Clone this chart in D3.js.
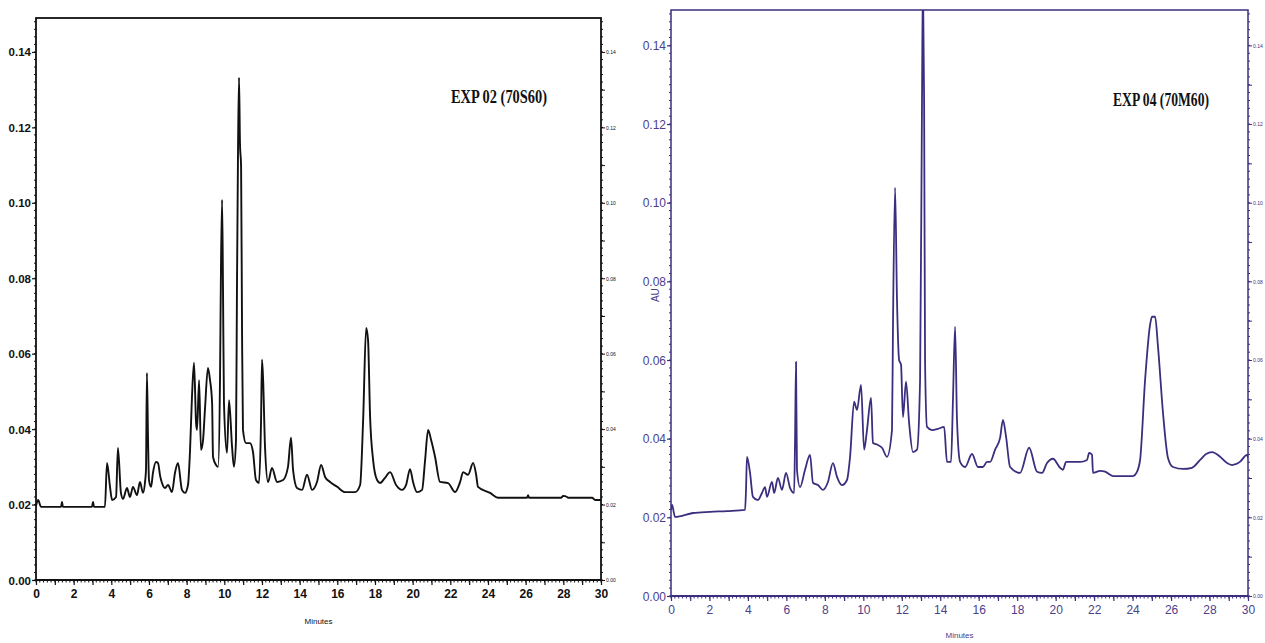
<!DOCTYPE html>
<html>
<head>
<meta charset="utf-8">
<script src="https://cdn.jsdelivr.net/npm/d3@7"></script>
<style>
  html, body { margin: 0; padding: 0; background: #fff; }
  svg { display: block; }
  .lbl { font-family: "Liberation Sans Narrow", "Liberation Sans", Arial, sans-serif; }
  .title { font-family: "Liberation Serif", "Times New Roman", serif; font-weight: bold; }
</style>
</head>
<body>
<svg id="chart" width="1265" height="643"></svg>
<script>
// Retention time (min) and absorbance (AU) for the two chromatograms.
const exp02Time = [0.00,0.11,0.27,1.33,1.38,1.43,2.97,3.03,3.08,3.66,3.77,3.93,4.04,4.25,4.35,4.51,4.62,4.83,4.99,5.15,5.36,5.52,5.68,5.79,5.84,5.89,5.95,6.00,6.11,6.21,6.37,6.48,6.59,6.69,6.85,7.01,7.22,7.38,7.54,7.75,7.91,8.07,8.18,8.28,8.39,8.50,8.55,8.66,8.76,8.87,8.97,9.13,9.24,9.35,9.40,9.56,9.67,9.77,9.82,9.88,9.93,9.98,10.14,10.25,10.41,10.51,10.62,10.67,10.73,10.78,10.83,10.89,10.94,10.99,11.15,11.36,11.52,11.68,11.84,11.95,12.00,12.06,12.16,12.32,12.53,12.80,13.12,13.38,13.54,13.65,13.86,14.13,14.39,14.66,14.92,15.14,15.35,15.61,15.99,16.41,16.94,17.21,17.37,17.53,17.63,17.74,17.90,18.11,18.27,18.53,18.80,19.12,19.44,19.65,19.86,20.02,20.23,20.50,20.66,20.82,20.98,21.19,21.45,21.88,22.25,22.52,22.68,22.94,23.21,23.37,23.47,24.11,24.54,26.07,26.13,26.18,27.88,27.99,28.20,28.25,29.53,29.69,30.00];
const exp02AU = [0.0196,0.0212,0.0194,0.0194,0.0207,0.0194,0.0194,0.0207,0.0194,0.0194,0.0310,0.0247,0.0212,0.0220,0.0350,0.0231,0.0215,0.0244,0.0220,0.0247,0.0225,0.0260,0.0231,0.0260,0.0292,0.0549,0.0370,0.0265,0.0247,0.0284,0.0313,0.0310,0.0276,0.0257,0.0244,0.0252,0.0233,0.0284,0.0310,0.0239,0.0231,0.0252,0.0345,0.0483,0.0576,0.0416,0.0398,0.0530,0.0345,0.0371,0.0451,0.0562,0.0530,0.0470,0.0326,0.0305,0.0300,0.0530,0.0817,0.1008,0.0770,0.0470,0.0337,0.0477,0.0353,0.0300,0.0371,0.0770,0.1159,0.1332,0.1159,0.1095,0.0663,0.0398,0.0363,0.0363,0.0340,0.0265,0.0257,0.0424,0.0584,0.0530,0.0353,0.0260,0.0297,0.0260,0.0265,0.0300,0.0377,0.0292,0.0244,0.0239,0.0279,0.0239,0.0260,0.0305,0.0273,0.0260,0.0247,0.0233,0.0233,0.0252,0.0424,0.0668,0.0637,0.0432,0.0318,0.0265,0.0257,0.0271,0.0286,0.0252,0.0239,0.0252,0.0294,0.0260,0.0233,0.0239,0.0318,0.0398,0.0371,0.0326,0.0260,0.0257,0.0233,0.0260,0.0286,0.0279,0.0310,0.0279,0.0247,0.0231,0.0218,0.0218,0.0225,0.0218,0.0218,0.0223,0.0220,0.0218,0.0218,0.0212,0.0212];

const exp04Time = [0.00,0.05,0.21,1.14,2.03,2.91,3.85,3.90,3.95,4.11,4.26,4.52,4.73,4.89,4.99,5.25,5.36,5.56,5.77,5.98,6.19,6.40,6.45,6.50,6.55,6.71,6.97,7.23,7.38,7.64,7.90,8.16,8.42,8.63,8.89,9.15,9.31,9.52,9.67,9.88,10.04,10.19,10.40,10.50,10.76,10.97,11.23,11.49,11.54,11.65,11.75,11.86,11.96,12.06,12.22,12.38,12.58,12.79,12.95,13.05,13.10,13.16,13.21,13.31,13.57,13.88,14.20,14.35,14.56,14.66,14.77,14.87,15.03,15.29,15.65,15.96,16.22,16.43,16.59,16.85,17.11,17.26,17.42,17.63,18.15,18.62,19.03,19.29,19.55,19.86,20.23,20.38,20.54,21.27,21.63,21.74,21.89,21.94,22.31,22.57,22.98,24.02,24.23,24.39,24.65,24.91,25.01,25.17,25.32,25.58,25.84,26.10,26.62,27.09,27.51,27.82,28.13,28.55,28.91,29.17,29.58,29.95,30.00];
const exp04AU = [0.0219,0.0232,0.0201,0.0211,0.0214,0.0216,0.0219,0.0270,0.0354,0.0313,0.0252,0.0244,0.0262,0.0277,0.0252,0.0290,0.0262,0.0300,0.0270,0.0313,0.0275,0.0262,0.0397,0.0595,0.0321,0.0277,0.0321,0.0359,0.0288,0.0282,0.0270,0.0290,0.0338,0.0303,0.0282,0.0295,0.0354,0.0494,0.0473,0.0537,0.0372,0.0422,0.0504,0.0389,0.0384,0.0377,0.0354,0.0422,0.0677,0.1038,0.0753,0.0600,0.0588,0.0455,0.0545,0.0440,0.0366,0.0372,0.0550,0.1260,0.1570,0.1260,0.0593,0.0430,0.0422,0.0425,0.0430,0.0341,0.0341,0.0499,0.0685,0.0448,0.0341,0.0328,0.0361,0.0328,0.0328,0.0341,0.0341,0.0372,0.0402,0.0448,0.0405,0.0328,0.0313,0.0377,0.0316,0.0313,0.0338,0.0349,0.0326,0.0321,0.0341,0.0341,0.0346,0.0364,0.0359,0.0313,0.0318,0.0316,0.0305,0.0305,0.0316,0.0346,0.0550,0.0690,0.0710,0.0710,0.0634,0.0466,0.0351,0.0328,0.0323,0.0326,0.0346,0.0361,0.0366,0.0354,0.0338,0.0333,0.0341,0.0359,0.0351];

const minuteTicks = [0,2,4,6,8,10,12,14,16,18,20,22,24,26,28,30];
const auTicks = [0.00,0.02,0.04,0.06,0.08,0.10,0.12,0.14];
const titles = ["EXP 02 (70S60)", "EXP 04 (70M60)"];

const svg = d3.select("#chart");

function drawPanel(cfg) {
  const x = d3.scaleLinear().domain([0, 30]).range([cfg.left, cfg.right]);
  const y = d3.scaleLinear().domain([0, 0.149]).range([cfg.bottom, cfg.top]);
  const g = svg.append("g").attr("class", "lbl");
  const c = cfg.color;

  // clip for the trace
  const clipId = "clip-" + cfg.id;
  svg.append("clipPath").attr("id", clipId)
    .append("rect").attr("x", cfg.left).attr("y", cfg.top)
    .attr("width", cfg.right - cfg.left).attr("height", cfg.bottom - cfg.top);

  // minor ticks (dotted look) on left and right axes
  const minorY = d3.range(0, 0.1491, 0.002);
  g.append("g").selectAll("line").data(minorY).join("line")
    .attr("x1", cfg.left - 2).attr("x2", cfg.left)
    .attr("y1", d => y(d)).attr("y2", d => y(d))
    .attr("stroke", c).attr("stroke-width", 1);
  g.append("g").selectAll("line").data(minorY).join("line")
    .attr("x1", cfg.right).attr("x2", cfg.right + 2)
    .attr("y1", d => y(d)).attr("y2", d => y(d))
    .attr("stroke", c).attr("stroke-width", 1);

  // left axis
  const yAxis = d3.axisLeft(y).tickValues(auTicks).tickFormat(d3.format(".2f"))
    .tickSize(4).tickPadding(1);
  const ya = g.append("g").attr("transform", `translate(${cfg.left},0)`).call(yAxis);
  ya.attr("font-family", null);
  ya.select(".domain").remove();
  ya.selectAll("line").attr("stroke", c).attr("stroke-width", 1.2);
  ya.selectAll("text").attr("fill", cfg.labelColor).attr("font-size", cfg.yFont)
    .attr("font-weight", cfg.bold ? "bold" : "normal").attr("dy", "0.35em");

  // right axis with tiny labels
  const yAxisR = d3.axisRight(y).tickValues(d3.range(0, 0.1491, 0.01))
    .tickFormat(d => (Math.round(d * 100) % 2 === 0) ? d3.format(".2f")(d) : "")
    .tickSize(4).tickPadding(1);
  const yr = g.append("g").attr("transform", `translate(${cfg.right},0)`).call(yAxisR);
  yr.attr("font-family", null);
  yr.select(".domain").remove();
  yr.selectAll("line").attr("stroke", c).attr("stroke-width", 1);
  yr.selectAll("text").attr("fill", c).attr("font-size", 5).attr("dy", "0.35em");

  // bottom axis: minor ticks, minute ticks, labels
  const minorX = d3.range(0, 30.001, 0.2);
  g.append("g").selectAll("line").data(minorX).join("line")
    .attr("x1", d => x(d)).attr("x2", d => x(d))
    .attr("y1", cfg.bottom).attr("y2", cfg.bottom + 2.5)
    .attr("stroke", c).attr("stroke-width", 1);
  const xAxis = d3.axisBottom(x).tickValues(d3.range(0, 31, 1))
    .tickFormat(d => minuteTicks.includes(d) ? String(d) : "")
    .tickSize(5).tickPadding(4);
  const xa = g.append("g").attr("transform", `translate(0,${cfg.bottom})`).call(xAxis);
  xa.attr("font-family", null);
  xa.select(".domain").remove();
  xa.selectAll("line").attr("stroke", c).attr("stroke-width", 1.2);
  xa.selectAll("text").attr("fill", cfg.labelColor).attr("font-size", cfg.xFont)
    .attr("font-weight", cfg.bold ? "bold" : "normal");

  // frame
  g.append("rect").attr("x", cfg.left).attr("y", cfg.top)
    .attr("width", cfg.right - cfg.left).attr("height", cfg.bottom - cfg.top)
    .attr("fill", "none").attr("stroke", c).attr("stroke-width", cfg.frameWidth);
  g.append("line").attr("x1", cfg.left).attr("x2", cfg.right)
    .attr("y1", cfg.bottom).attr("y2", cfg.bottom)
    .attr("stroke", c).attr("stroke-width", 2.2);

  // axis titles
  g.append("text").attr("x", (cfg.left + cfg.right) / 2).attr("y", cfg.bottom + cfg.minutesDy)
    .attr("text-anchor", "middle").attr("font-size", 8).attr("fill", cfg.labelColor)
    .text("Minutes");
  if (cfg.showAU) {
    g.append("text").attr("transform", `translate(${cfg.left - 12},${y(0.0765)}) rotate(-90)`)
      .attr("text-anchor", "middle").attr("font-size", 10).attr("fill", cfg.labelColor)
      .text("AU");
  }

  // chromatogram trace
  const pts = cfg.time.map((t, i) => [t, cfg.au[i]]);
  g.append("path").datum(pts)
    .attr("clip-path", `url(#${clipId})`)
    .attr("fill", "none").attr("stroke", c).attr("stroke-width", cfg.lineWidth)
    .attr("stroke-linejoin", "round")
    .attr("d", d3.line().x(d => x(d[0])).y(d => y(d[1])).curve(d3.curveMonotoneX));

  // sample title
  svg.append("text").attr("class", "title").attr("x", cfg.titleX).attr("y", cfg.titleY)
    .attr("font-size", 19).attr("fill", "#111")
    .attr("textLength", 96).attr("lengthAdjust", "spacingAndGlyphs")
    .text(cfg.title);
}

drawPanel({
  id: "exp02", left: 36, right: 601, top: 18, bottom: 580,
  color: "#111", labelColor: "#111", bold: true, yFont: 11.5, xFont: 12,
  frameWidth: 1.8, lineWidth: 1.9, minutesDy: 44, showAU: false,
  time: exp02Time, au: exp02AU, title: titles[0], titleX: 451, titleY: 103
});

drawPanel({
  id: "exp04", left: 671, right: 1248, top: 10, bottom: 596,
  color: "#3b2e7e", labelColor: "#4a418c", bold: false, yFont: 12, xFont: 12,
  frameWidth: 1.5, lineWidth: 1.8, minutesDy: 42, showAU: true,
  time: exp04Time, au: exp04AU, title: titles[1], titleX: 1113, titleY: 106
});
</script>
</body>
</html>
